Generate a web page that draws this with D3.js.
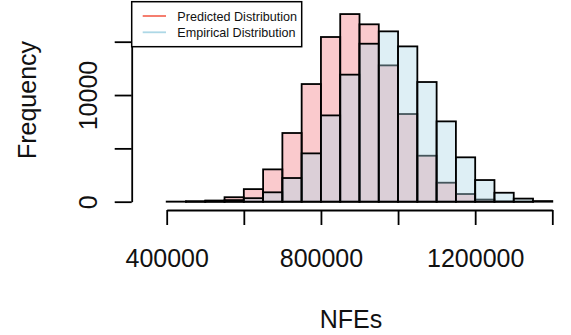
<!DOCTYPE html>
<html>
<head>
<meta charset="utf-8">
<script src="https://cdn.jsdelivr.net/npm/d3@7"></script>
<style>
  body { margin: 0; background: #fff; }
  svg { display: block; font-family: "Liberation Sans", Arial, Helvetica, sans-serif; }
</style>
</head>
<body>
<svg id="chart" width="571" height="335"></svg>
<script>
// histogram bins (left edge of each bin, width 50000)
const binStarts = [350000, 400000, 450000, 500000, 550000, 600000, 650000, 700000,
  750000, 800000, 850000, 900000, 950000, 1000000, 1050000, 1100000, 1150000,
  1200000, 1250000, 1300000, 1350000, 1400000];
const binWidth = 50000;
const predicted = [0, 10, 40, 110, 420, 1180, 3030, 6440, 11030, 15440, 17590,
  16630, 12780, 8220, 4310, 1780, 720, 200, 30, 5, 0, 0];
const empirical = [0, 0, 10, 50, 150, 330, 880, 2220, 4530, 8090, 11910,
  14810, 15970, 14560, 11220, 7530, 4160, 2030, 840, 290, 60, 0];

const xTicks = [400000, 600000, 800000, 1000000, 1200000, 1400000];
const xTickLabels = ["400000", "", "800000", "", "1200000", ""];
const yTicks = [0, 5000, 10000, 15000];
const yTickLabels = ["0", "", "10000", ""];
const seriesNames = ["Predicted Distribution", "Empirical Distribution"];
const lineColors = ["#f4705f", "#add8e6"];
const fillColors = ["rgba(240, 80, 90, 0.3)", "rgba(173, 216, 230, 0.4)"];

const svg = d3.select("#chart");

const x = d3.scaleLinear().domain([400000, 1400000]).range([166.7, 552.3]);
const y = d3.scaleLinear().domain([0, 15000]).range([201.7, 41.7]);

// bars: predicted first, empirical drawn over it
[predicted, empirical].forEach((counts, s) => {
  svg.append("g")
    .selectAll("rect")
    .data(counts)
    .enter()
    .append("rect")
    .attr("x", (d, i) => x(binStarts[i]))
    .attr("width", (d, i) => x(binStarts[i] + binWidth) - x(binStarts[i]))
    .attr("y", (d) => y(d))
    .attr("height", (d) => y(0) - y(d))
    .attr("fill", fillColors[s])
    .attr("stroke", "#000")
    .attr("stroke-width", 1.8);
});

// x axis
const xAxis = svg.append("g")
  .attr("transform", "translate(0,210)")
  .call(d3.axisBottom(x).tickValues(xTicks).tickSize(15).tickSizeOuter(0)
    .tickFormat((d, i) => xTickLabels[i]));
xAxis.select(".domain").attr("stroke-width", 1.8);
xAxis.selectAll(".tick line").attr("stroke-width", 1.8);
xAxis.selectAll(".tick text")
  .attr("y", 56.7)
  .attr("dy", null)
  .attr("font-size", 25)
  .attr("font-family", null)
  .attr("fill", "#111");

// y axis
const yAxis = svg.append("g")
  .attr("transform", "translate(131.7,0)")
  .call(d3.axisLeft(y).tickValues(yTicks).tickSize(17).tickSizeOuter(0)
    .tickFormat((d, i) => yTickLabels[i]));
yAxis.select(".domain").attr("stroke-width", 1.8);
yAxis.selectAll(".tick line").attr("stroke-width", 1.8);
yAxis.selectAll(".tick text")
  .attr("x", null)
  .attr("dy", null)
  .attr("transform", "translate(-35,0) rotate(-90)")
  .attr("text-anchor", "middle")
  .attr("font-size", 25)
  .attr("font-family", null)
  .attr("fill", "#111");

// axis titles
svg.append("text")
  .attr("x", 351)
  .attr("y", 328)
  .attr("text-anchor", "middle")
  .attr("font-size", 25)
  .attr("fill", "#111")
  .text("NFEs");

svg.append("text")
  .attr("transform", "translate(35.5,100) rotate(-90)")
  .attr("text-anchor", "middle")
  .attr("font-size", 25)
  .attr("fill", "#111")
  .text("Frequency");

// legend
const legend = svg.append("g");
legend.append("rect")
  .attr("x", 131.7)
  .attr("y", 1.7)
  .attr("width", 170)
  .attr("height", 45)
  .attr("fill", "#fff")
  .attr("stroke", "#000")
  .attr("stroke-width", 1.5);

const items = legend.selectAll(".item")
  .data(seriesNames)
  .enter()
  .append("g")
  .attr("class", "item")
  .attr("transform", (d, i) => "translate(0," + (16 + i * 16.3) + ")");

items.append("line")
  .attr("x1", 142.7)
  .attr("x2", 166)
  .attr("stroke", (d, i) => lineColors[i])
  .attr("stroke-width", 1.8);

items.append("text")
  .attr("x", 177.3)
  .attr("y", 4.5)
  .attr("font-size", 12.6)
  .attr("fill", "#111")
  .text((d) => d);
</script>
</body>
</html>
